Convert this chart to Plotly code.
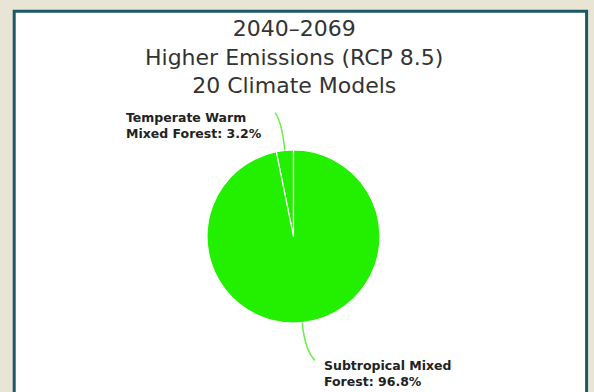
import math
import plotly.graph_objects as go

# ---- data ----
categories = ["Temperate Warm<br>Mixed Forest", "Subtropical Mixed<br>Forest"]
values = [3.2, 96.8]
title_lines = ["2040–2069", "Higher Emissions (RCP 8.5)", "20 Climate Models"]

W, H = 594, 392
CX, CY, R = 293.5, 236.5, 86.5
GREEN = "#22F000"
LINE_GREEN = "#6BEE4A"


def px(x):
    return x / W


def py(y):
    return 1 - y / H


total = sum(values)
first_frac = values[0] / total

fig = go.Figure()
fig.add_trace(go.Pie(
    labels=categories,
    values=values,
    sort=False,
    direction="clockwise",
    rotation=-first_frac * 360,   # first slice ends at 12 o'clock (lies to its left)
    marker=dict(colors=[GREEN, GREEN], line=dict(color="white", width=1.2)),
    textinfo="none",
    hoverinfo="label+percent",
    showlegend=False,
    domain=dict(x=[px(CX - R), px(CX + R)], y=[py(CY + R), py(CY - R)]),
))

shapes = [
    dict(type="rect", xref="paper", yref="paper", layer="below",
         x0=px(14.2), x1=px(586.6), y0=-0.1, y1=py(11.2),
         fillcolor="white", line=dict(color="#1C5865", width=3)),
]
annotations = []

cum = -first_frac
label_cfg = [
    dict(hook=-6, ext=38, ldx=-11, ldy=-5, xanchor="right"),
    dict(hook=9, ext=38, ldx=7, ldy=-4, xanchor="left"),
]
for i, (lab, v) in enumerate(zip(categories, values)):
    frac = v / total
    mid = cum + frac / 2
    cum += frac
    theta = mid * 2 * math.pi   # clockwise from 12 o'clock
    dx, dy = math.sin(theta), -math.cos(theta)
    x0, y0 = CX + R * dx, CY + R * dy
    cfg = label_cfg[i]
    cxp, cyp = CX + (R + cfg["ext"] * 0.75) * dx, CY + (R + cfg["ext"] * 0.75) * dy
    x2, y2 = CX + (R + cfg["ext"]) * dx + cfg["hook"], CY + (R + cfg["ext"]) * dy
    path = f"M {px(x0)},{py(y0)} Q {px(cxp)},{py(cyp)} {px(x2)},{py(y2)}"
    shapes.append(dict(type="path", xref="paper", yref="paper", path=path,
                       line=dict(color=LINE_GREEN, width=1.5)))
    annotations.append(dict(
        xref="paper", yref="paper", x=px(x2 + cfg["ldx"]), y=py(y2 + cfg["ldy"]),
        xanchor=cfg["xanchor"], yanchor="top", align="left", showarrow=False,
        text=f"<b>{lab}: {v:.1f}%</b>",
        font=dict(family="DejaVu Sans", size=12.5, color="#222222"),
    ))

annotations.append(dict(
    xref="paper", yref="paper", x=px(CX), y=py(14), xanchor="center", yanchor="top",
    showarrow=False, align="center", text="<br>".join(title_lines),
    font=dict(family="DejaVu Sans", size=22, color="#333333"),
))

fig.update_layout(
    width=W, height=H,
    margin=dict(l=0, r=0, t=0, b=0),
    paper_bgcolor="#E9E5D5",
    shapes=shapes,
    annotations=annotations,
)

fig.write_html("out.html")
